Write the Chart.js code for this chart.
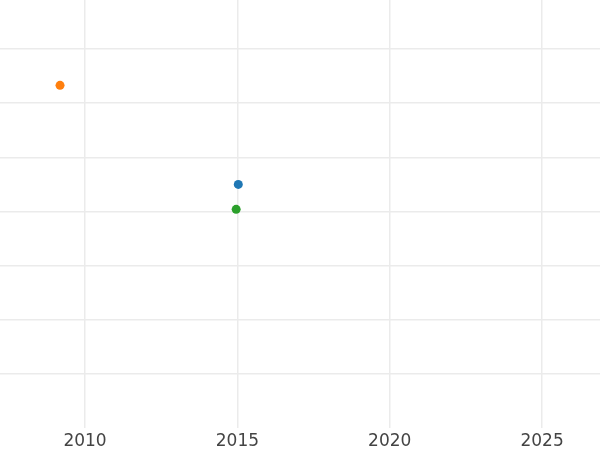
<!DOCTYPE html>
<html>
<head>
<meta charset="utf-8">
<script src="https://cdn.jsdelivr.net/npm/chart.js@4"></script>
<style>
    html, body { margin: 0; padding: 0; background: #fff; }
    #wrap { width: 600px; height: 450px; }
</style>
</head>
<body>
<div id="wrap"><canvas id="chart"></canvas></div>
<script>
const seriesNames = ['A', 'B', 'C'];
const seriesColors = ['#1f77b4', '#ff7f0e', '#2ca02c'];
const yearValues = [2015.03, 2009.18, 2014.96];
const yValues = [4.5, 6.33, 4.04];
const xTicks = [2010, 2015, 2020, 2025];

const datasets = seriesNames.map((name, i) => ({
    label: name,
    data: [{ x: yearValues[i], y: yValues[i] }],
    backgroundColor: seriesColors[i],
    borderWidth: 0,
    pointRadius: 4.5,
    pointHoverRadius: 4.5
}));

const ctx = document.getElementById('chart').getContext('2d');
new Chart(ctx, {
    type: 'scatter',
    data: { datasets },
    options: {
        responsive: true,
        maintainAspectRatio: false,
        animation: false,
        layout: { padding: 0, autoPadding: false },
        plugins: {
            legend: { display: false },
            tooltip: { enabled: false }
        },
        scales: {
            x: {
                type: 'linear',
                min: 2007.21,
                max: 2026.9,
                afterBuildTicks: axis => { axis.ticks = xTicks.map(v => ({ value: v })); },
                afterFit: axis => { axis.height = 22; },
                border: { display: false },
                grid: { color: '#ebebeb', lineWidth: 1.5, drawTicks: false },
                ticks: {
                    padding: 3,
                    color: '#444',
                    font: { family: 'DejaVu Sans', size: 17 },
                    callback: v => String(v)
                }
            },
            y: {
                min: 0,
                max: 7.907,
                afterBuildTicks: axis => { axis.ticks = [1, 2, 3, 4, 5, 6, 7].map(v => ({ value: v })); },
                afterFit: axis => { axis.width = 0; },
                border: { display: false },
                grid: { color: '#ebebeb', lineWidth: 1.5, drawTicks: false },
                ticks: { display: false }
            }
        }
    }
});
</script>
</body>
</html>
